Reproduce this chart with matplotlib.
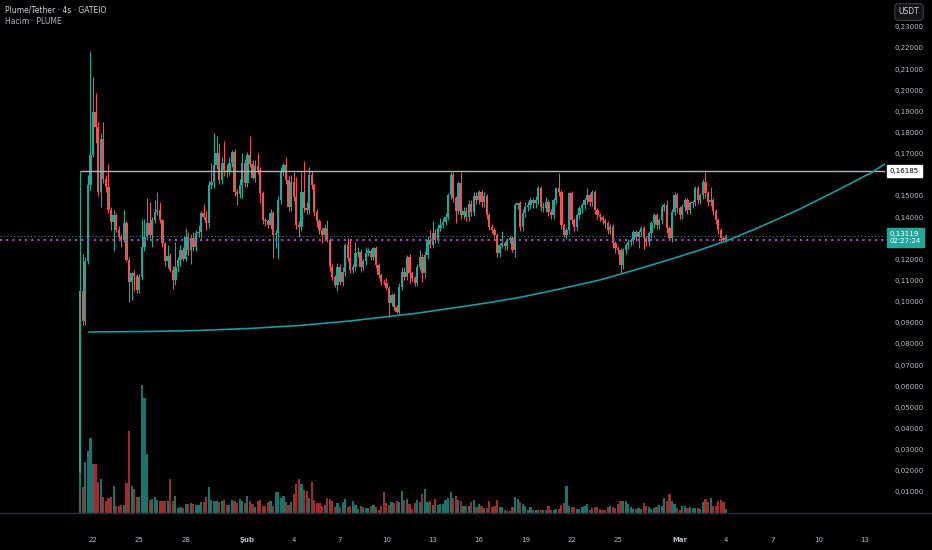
import numpy as np
import pandas as pd
import matplotlib
matplotlib.use('Agg')
import matplotlib.pyplot as plt
import matplotlib.dates as mdates
from matplotlib.lines import Line2D
from matplotlib.transforms import blended_transform_factory

# PLUME/USDT 4h candles, Jan 21 - Mar 4
first_open = 0.0195
closes = [0.1050, 0.0906, 0.1190, 0.1550, 0.1694, 0.1899, 0.1828, 0.1520, 0.1770, 0.1580,
          0.1540, 0.1434, 0.1378, 0.1410, 0.1339, 0.1308, 0.1292, 0.1370, 0.1197, 0.1095,
          0.1134, 0.1120, 0.1055, 0.1118, 0.1260, 0.1307, 0.1370, 0.1315, 0.1386, 0.1426,
          0.1434, 0.1386, 0.1276, 0.1190, 0.1214, 0.1150, 0.1103, 0.1166, 0.1197, 0.1245,
          0.1204, 0.1308, 0.1245, 0.1300, 0.1260, 0.1323, 0.1330, 0.1418, 0.1400, 0.1370,
          0.1552, 0.1568, 0.1647, 0.1702, 0.1576, 0.1655, 0.1623, 0.1620, 0.1655, 0.1710,
          0.1520, 0.1510, 0.1552, 0.1655, 0.1560, 0.1695, 0.1650, 0.1585, 0.1640, 0.1625,
          0.1513, 0.1386, 0.1380, 0.1362, 0.1418, 0.1315, 0.1323, 0.1480, 0.1615, 0.1645,
          0.1576, 0.1450, 0.1568, 0.1497, 0.1362, 0.1355, 0.1520, 0.1442, 0.1434, 0.1599,
          0.1552, 0.1426, 0.1380, 0.1339, 0.1315, 0.1347, 0.1292, 0.1166, 0.1118, 0.1079,
          0.1166, 0.1095, 0.1142, 0.1268, 0.1205, 0.1150, 0.1166, 0.1229, 0.1237, 0.1166,
          0.1190, 0.1229, 0.1240, 0.1213, 0.1252, 0.1174, 0.1126, 0.1095, 0.1087, 0.1063,
          0.0992, 0.1032, 0.0976, 0.0953, 0.1071, 0.1142, 0.1118, 0.1213, 0.1134, 0.1111,
          0.1087, 0.1166, 0.1213, 0.1134, 0.1221, 0.1292, 0.1268, 0.1323, 0.1292, 0.1347,
          0.1362, 0.1378, 0.1402, 0.1505, 0.1600, 0.1490, 0.1430, 0.1560, 0.1410, 0.1430,
          0.1400, 0.1460, 0.1426, 0.1500, 0.1480, 0.1520, 0.1470, 0.1500, 0.1410, 0.1355,
          0.1339, 0.1315, 0.1229, 0.1268, 0.1276, 0.1261, 0.1292, 0.1300, 0.1245, 0.1457,
          0.1465, 0.1355, 0.1420, 0.1450, 0.1457, 0.1481, 0.1465, 0.1481, 0.1536, 0.1450,
          0.1442, 0.1473, 0.1426, 0.1410, 0.1481, 0.1536, 0.1520, 0.1362, 0.1315, 0.1339,
          0.1512, 0.1386, 0.1355, 0.1410, 0.1441, 0.1457, 0.1481, 0.1505, 0.1473, 0.1520,
          0.1434, 0.1410, 0.1402, 0.1386, 0.1370, 0.1339, 0.1355, 0.1276, 0.1252, 0.1245,
          0.1174, 0.1245, 0.1268, 0.1284, 0.1292, 0.1331, 0.1307, 0.1331, 0.1347, 0.1300,
          0.1284, 0.1323, 0.1370, 0.1410, 0.1362, 0.1386, 0.1450, 0.1457, 0.1347, 0.1300,
          0.1426, 0.1505, 0.1441, 0.1410, 0.1450, 0.1481, 0.1434, 0.1465, 0.1473, 0.1536,
          0.1481, 0.1505, 0.1568, 0.1512, 0.1473, 0.1481, 0.1430, 0.1386, 0.1339, 0.1300,
          0.1292, 0.13119]

# wick lengths above / below the body, in thousandths of USDT
wick_up = [56.85, 17.4, 2, 5, 49.2, 16.5, 8.7, 2.2, 3, 8,
           2, 11, 1.6, 2.4, 1, 2, 1.2, 6.4, 1, 1.3,
           0.6, 1.6, 1, 1.2, 13, 8.3, 12, 10, 1.4, 5.4,
           8.6, 3.6, 0.4, 0.4, 5.6, 1.6, 2, 11.4, 1.3, 2.5,
           1.5, 4.2, 2.2, 2, 3, 1.7, 3.2, 1.2, 4.2, 3,
           1.8, 8.6, 15.3, 8.2, 4.8, 3, 10.5, 3, 3, 0.5,
           1, 1.5, 3, 4.7, 2, 1.4, 8.9, 2, 3, 6.2,
           1, 1, 1, 1, 2, 1, 1.5, 2, 2, 1,
           3.8, 2, 3, 4.7, 9.4, 2, 9.5, 14.7, 3, 3.9,
           2, 1, 1, 1, 1, 2, 3.9, 1, 1, 1,
           1.5, 1, 2, 1, 3.1, 8.7, 1, 5.1, 2, 1,
           1, 3.1, 1.5, 1, 0.8, 1, 1, 1, 1, 2.3,
           1, 1, 1, 1, 1.5, 2, 2, 0.8, 1, 1,
           1, 1, 3.2, 1, 2, 2, 4.7, 5.7, 2, 2,
           3.2, 2, 1.6, 0.8, 1.5, 1.5, 1, 1, 5.5, 2,
           2, 2, 2, 2, 2, 1, 1, 2, 1, 1,
           1, 1, 1, 1, 5.9, 1, 1, 1, 1, 1,
           0.8, 1, 2, 2, 2, 1.6, 1, 2, 1, 1,
           2, 2, 1, 1, 1, 0.8, 7.1, 1, 1, 1,
           0.5, 1, 1, 1, 1, 1, 1, 3.1, 1, 1,
           1, 1, 1, 1, 1, 1, 1, 1, 1, 1,
           1, 1, 1, 1, 1, 1, 1, 1, 1, 1,
           1, 1, 1, 0.8, 1, 1, 1, 1, 2.4, 1,
           1, 1.5, 1, 1, 1, 1, 1, 1, 1, 1,
           1, 1, 1, 4.7, 1, 6.3, 1, 1, 1, 1,
           1, 1]
wick_dn = [0.5, 1.6, 1.6, 1, 2, 1, 7.8, 2, 7, 2,
           2, 1.4, 3.8, 13.8, 1, 1.8, 3.2, 1.2, 0.7, 9.5,
           8.5, 7, 1.5, 1.5, 1.8, 2, 1.7, 1.5, 5.5, 1.6,
           1.6, 1.6, 1.6, 2, 3, 1, 4.3, 2.3, 2.6, 2.7,
           1.4, 1.4, 2.5, 6.5, 2, 2, 1.5, 3, 1, 3,
           2, 2, 3, 2, 2, 2, 3, 3, 2, 2,
           2, 5.3, 2, 6, 2, 2, 1.5, 0.7, 2, 2,
           4.8, 2, 2, 1.5, 2, 11, 6.3, 12.3, 2, 2,
           2, 2, 2, 2, 2, 4.8, 2, 2, 2, 2,
           2, 2, 2.5, 2, 3.9, 2, 1, 2, 1.5, 0.8,
           3, 1.5, 2, 2, 1.5, 1.5, 1.5, 2, 2, 2.6,
           1.5, 1.5, 1.5, 1.5, 1.5, 1.5, 1.5, 1.5, 1, 1,
           6.3, 1.5, 1.5, 0.8, 1, 1.5, 1.5, 1.5, 4.7, 1.5,
           1.5, 1.5, 1.5, 3.9, 2, 2, 1.5, 1.5, 1.5, 1.5,
           1.5, 1.5, 1.5, 1.5, 2, 2, 6, 1.5, 2, 2,
           2, 2, 2, 2, 2, 2, 2, 2, 2, 1.5,
           1.5, 1.5, 1.6, 2, 1.5, 1.5, 1.5, 1.5, 0.8, 3.2,
           2, 2, 2, 2, 2, 2, 2, 2, 2, 2,
           2, 2, 2, 2, 2, 2, 2, 2, 0.8, 2,
           2, 2, 2, 2, 2, 2, 2, 2, 2, 2,
           2, 2, 2, 2, 2, 2, 2, 2, 2, 2,
           4, 2, 2, 2, 2, 2, 2, 5.5, 2, 5,
           2, 2, 2, 2, 2, 2, 2, 2, 2, 1,
           2, 2, 2, 2, 2, 2, 2, 2, 2, 2,
           2, 2, 2, 2, 2, 2, 2, 2, 2, 2,
           0.7, 1]

# relative volume (bar heights as seen in the picture)
volume = [45, 26, 51, 62, 75, 49, 49, 31, 34, 16,
          12, 15, 16, 27, 7, 7, 8, 8, 30, 82,
          27, 24, 16, 16, 128, 115, 59, 13, 14, 16,
          13, 12, 12, 12, 12, 34, 12, 17, 5, 6,
          5, 9, 9, 10, 9, 8, 8, 11, 11, 16,
          26, 13, 12, 12, 11, 12, 13, 8, 8, 13,
          12, 10, 14, 12, 10, 17, 12, 9, 6, 12,
          13, 7, 7, 11, 12, 7, 21, 21, 15, 17,
          11, 8, 11, 19, 29, 34, 29, 23, 22, 15,
          31, 13, 10, 10, 7, 8, 15, 14, 12, 6,
          10, 6, 11, 14, 6, 7, 12, 8, 4, 7,
          6, 5, 5, 7, 8, 6, 3, 7, 21, 10,
          8, 11, 10, 12, 11, 22, 13, 14, 9, 4,
          10, 13, 11, 19, 24, 11, 12, 8, 14, 8,
          9, 9, 13, 15, 21, 15, 17, 13, 12, 7,
          7, 7, 11, 13, 6, 9, 7, 5, 5, 12,
          6, 7, 13, 6, 6, 3, 2, 2, 6, 16,
          14, 11, 9, 7, 3, 6, 3, 3, 3, 3,
          3, 3, 7, 3, 3, 4, 4, 8, 10, 27,
          7, 6, 6, 4, 4, 6, 7, 9, 3, 5,
          6, 6, 4, 3, 3, 6, 7, 6, 5, 9,
          12, 12, 12, 9, 6, 4, 4, 5, 4, 10,
          7, 6, 4, 5, 6, 8, 7, 15, 12, 19,
          12, 9, 5, 3, 7, 7, 5, 6, 5, 5,
          5, 4, 11, 14, 11, 15, 7, 7, 12, 13,
          11, 4]

times = pd.date_range(end='2025-03-04 00:00', periods=len(closes), freq='4h')

level_top = 0.16185
last_price = 0.13119
prev_close = 0.1293

# hand-drawn arc (days after Jan 22, price)
arc_days = [-0.26, 3.69, 6.93, 10.17, 13.41, 16.65, 19.04, 20.86, 23.12, 25.71, 27.79,
            30.25, 32.84, 35.10, 37.37, 39.31, 41.06, 43.20, 45.79, 48.38, 50.45, 51.49]
arc_prices = [0.08566, 0.08589, 0.08637, 0.08731, 0.08873, 0.09086, 0.09289, 0.09441,
              0.09677, 0.09961, 0.10221, 0.10600, 0.11026, 0.11499, 0.11995, 0.12445,
              0.12885, 0.13533, 0.14384, 0.15330, 0.16120, 0.16607]

price_ticks = [0.01, 0.02, 0.03, 0.04, 0.05, 0.06, 0.07, 0.08, 0.09, 0.10, 0.11, 0.12,
               0.14, 0.15, 0.17, 0.18, 0.19, 0.20, 0.21, 0.22, 0.23]
date_ticks = ['2025-01-22', '2025-01-25', '2025-01-28', '2025-02-01', '2025-02-04', '2025-02-07',
              '2025-02-10', '2025-02-13', '2025-02-16', '2025-02-19', '2025-02-22', '2025-02-25',
              '2025-03-01', '2025-03-04', '2025-03-07', '2025-03-10', '2025-03-13']
date_labels = ['22', '25', '28', 'Şub', '4', '7', '10', '13', '16', '19', '22', '25',
               'Mar', '4', '7', '10', '13']

UP, DOWN = '#26a69a', '#ef5350'
VUP, VDOWN = '#1b746b', '#9a302d'
TXT = '#b8bcc6'

x = mdates.date2num(times)
c = np.array(closes)
o = np.r_[first_open, c[:-1]]
hi = np.maximum(o, c) + np.array(wick_up) / 1000
lo = np.minimum(o, c) - np.array(wick_dn) / 1000
up = c >= o
col = np.where(up, UP, DOWN)
vcol = np.where(up, VUP, VDOWN)

fig = plt.figure(figsize=(9.32, 5.5), dpi=100, facecolor='black')
pos = [0, 37 / 550, 885 / 932, 513 / 550]
axv = fig.add_axes(pos, facecolor='black')
ax = fig.add_axes(pos, facecolor='none')

day0 = mdates.date2num(pd.Timestamp('2025-01-22'))
xlim = (day0 - 93 / 15.44, day0 + 792 / 15.44)

axv.bar(x, volume, width=0.14, color=vcol, linewidth=0)
axv.set_ylim(0, 513)
axv.set_xlim(*xlim)
axv.axis('off')

ax.vlines(x, lo, hi, colors=col, linewidth=0.8)
body = np.maximum(np.abs(c - o), 0.0003)
ax.bar(x, body, bottom=np.minimum(o, c), width=0.15, color=col, linewidth=0)

ax.hlines(level_top, x[0], xlim[1], color='#b2b5be', linewidth=1)
ax.axhline(last_price, color=UP, linewidth=0.7, linestyle=(0, (1, 2.5)))
ax.axhline(prev_close, color='#c23ac2', linewidth=1.5, linestyle=(0, (1, 2)))
ax.plot(day0 + np.array(arc_days), arc_prices, color='#1b9aa0', linewidth=1.2)

ax.set_xlim(*xlim)
ax.set_ylim(0, 0.2427)
for s in ax.spines.values():
    s.set_visible(False)
ax.yaxis.tick_right()
ax.set_yticks(price_ticks)
ax.set_yticklabels([f'{v:.5f}'.replace('.', ',') for v in price_ticks])
ax.tick_params(axis='y', length=0, pad=6.5, labelsize=5, labelcolor=TXT)
ax.set_xticks(mdates.date2num(pd.to_datetime(date_ticks)))
ax.set_xticklabels(date_labels)
ax.tick_params(axis='x', length=0, pad=17, labelsize=5, labelcolor=TXT)
for lab in ax.get_xticklabels():
    if lab.get_text() in ('Şub', 'Mar'):
        lab.set_fontweight('bold')

fig.add_artist(Line2D([0, 1], [37 / 550, 37 / 550], color='#2a2e39', linewidth=1))

tr = blended_transform_factory(ax.transAxes, ax.transData)
ax.text(1 + 5 / 885, level_top, '0,16185', transform=tr, fontsize=5, color='black',
        va='center', ha='left',
        bbox=dict(boxstyle='square,pad=0.45', fc='white', ec='white'))
ax.annotate('0,13119\n02:27:24', xy=(1, last_price), xycoords=tr, xytext=(5, 5),
            textcoords='offset pixels', fontsize=5, color='white', va='top', ha='left',
            linespacing=1.3,
            bbox=dict(boxstyle='square,pad=0.45', fc=UP, ec=UP))

fig.text(909 / 932, 1 - 12 / 550, 'USDT', ha='center', va='center', fontsize=5.5,
         color='#d1d4dc',
         bbox=dict(boxstyle='round,pad=0.5', fc='#131313', ec='#3a3e48', lw=0.8))
fig.text(5 / 932, 1 - 10 / 550, 'Plume/Tether · 4s · GATEIO', fontsize=5.5,
         color='#d1d4dc', va='center', ha='left')
fig.text(5 / 932, 1 - 21 / 550, 'Hacim · PLUME', fontsize=5.5, color='#b2b5be',
         va='center', ha='left')

fig.savefig('out.png', dpi=100, facecolor='black')
